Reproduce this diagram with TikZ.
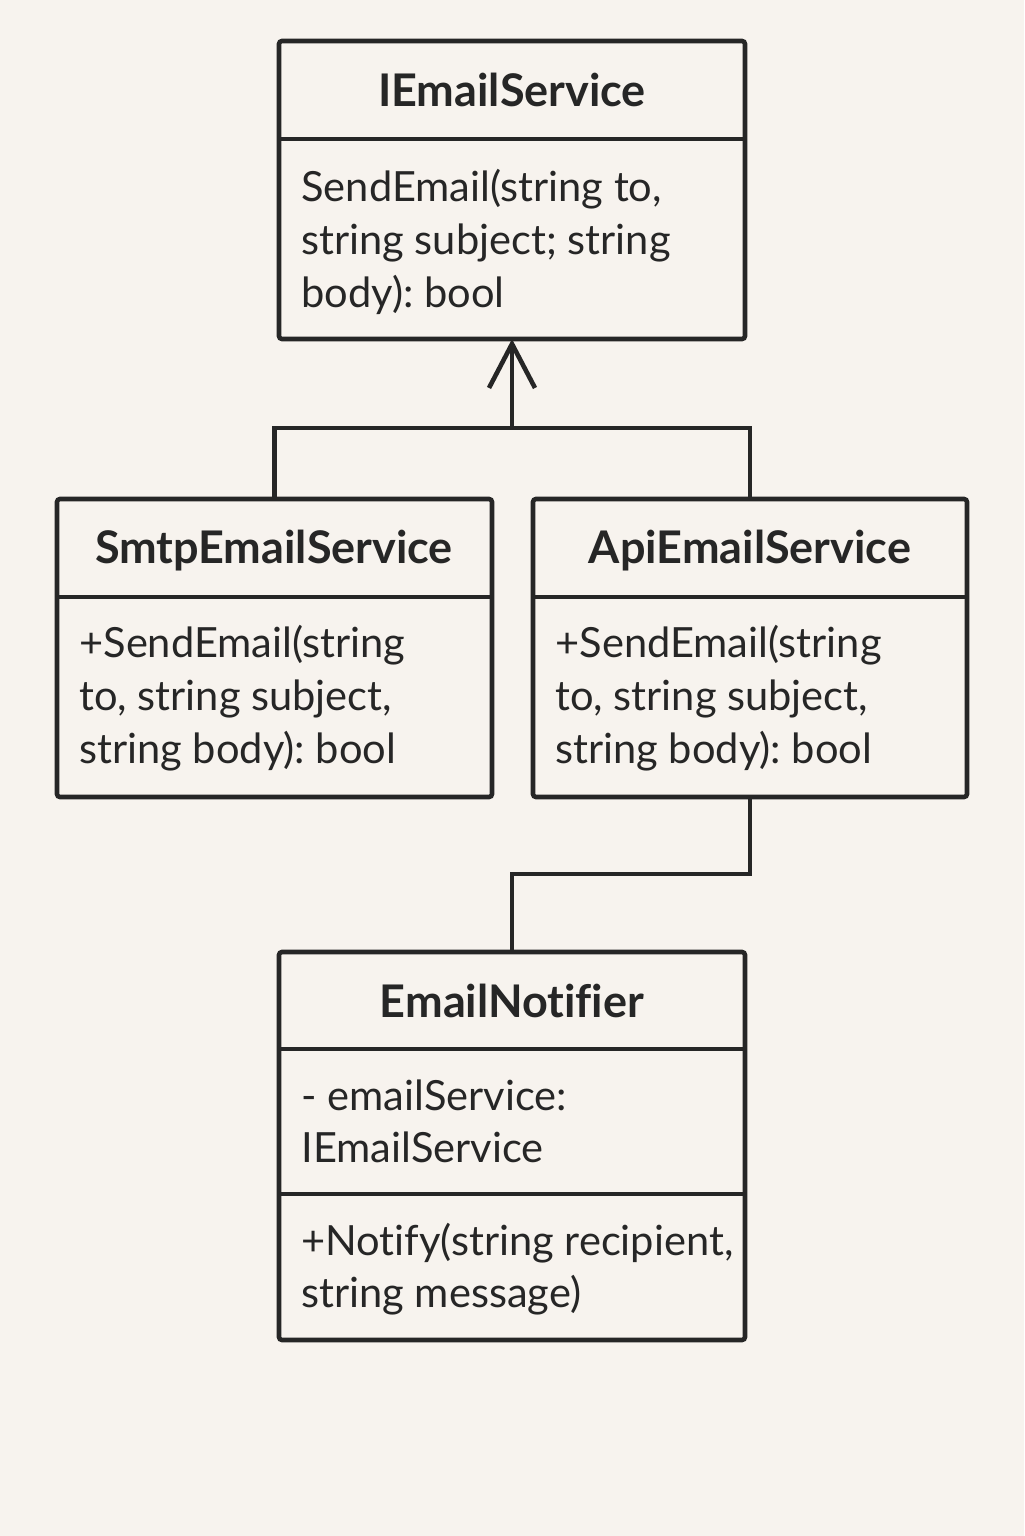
\documentclass[tikz,border=0pt]{standalone}
\usepackage{fontspec}
\setmainfont{Lato}[Ligatures=NoCommon]
\usetikzlibrary{arrows.meta}
\definecolor{bg}{HTML}{F7F3EE}
\definecolor{ink}{HTML}{262626}
\frenchspacing
\begin{document}
\begin{tikzpicture}[x=0.5pt,y=-0.5pt,
 box/.style={draw=ink,line width=2.3pt,rounded corners=1.5pt,inner sep=0pt,outer sep=0pt,anchor=north west},
 ttl/.style={font=\fontsize{22.5pt}{26pt}\selectfont\bfseries,text=ink,anchor=base,inner sep=0pt},
 txt/.style={font=\fontsize{20.8pt}{26.5pt}\selectfont,text=ink,anchor=base west,inner sep=0pt},
 conn/.style={draw=ink,line width=2.3pt,line join=miter}]
\fill[bg] (0,0) rectangle (1024,1536);
\useasboundingbox (0,0) rectangle (1024,1536);
% boxes
\node[box,minimum width=233pt,minimum height=149pt] (ie) at (279,41) {};
\node[box,minimum width=217.5pt,minimum height=149pt] (smtp) at (57,499) {};
\node[box,minimum width=217pt,minimum height=149pt] (api) at (533,499) {};
\node[box,minimum width=233pt,minimum height=194pt] (notif) at (279,952) {};
% dividers
\draw[conn] (ie.west |- 0,139) -- (ie.east |- 0,139);
\draw[conn] (smtp.west |- 0,597) -- (smtp.east |- 0,597);
\draw[conn] (api.west |- 0,597) -- (api.east |- 0,597);
\draw[conn] (notif.west |- 0,1049) -- (notif.east |- 0,1049);
\draw[conn] (notif.west |- 0,1194) -- (notif.east |- 0,1194);
% titles
\node[ttl] (ieT) at (512,107) {IEmailService};
\node[ttl] (smtpT) at (274,563) {SmtpEmailService};
\node[ttl] (apiT) at (750,563) {ApiEmailService};
\node[ttl] (notifT) at (512,1017) {EmailNotifier};
% body text
\node[txt] (ie1) at (301,201) {SendEmail(string to,};
\node[txt] (ie2) at (301,254) {string subject; string};
\node[txt] (ie3) at (301,307) {body): bool};
\node[txt] (sm1) at (79,657) {+SendEmail(string};
\node[txt] (sm2) at (79,710) {to, string subject,};
\node[txt] (sm3) at (79,763) {string body): bool};
\node[txt] (ap1) at (555,657) {+SendEmail(string};
\node[txt] (ap2) at (555,710) {to, string subject,};
\node[txt] (ap3) at (555,763) {string body): bool};
\node[txt] (nf1) at (301,1110) {- emailService:};
\node[txt] (nf2) at (301,1162) {IEmailService};
\node[txt] (nf3) at (301,1255) {+Notify(string recipient,};
\node[txt] (nf4) at (301,1307) {string message)};
% connectors
\coordinate (j) at (512,428);
\draw[conn] (smtp.north) |- (j) -| (api.north);
\draw[conn,-{Straight Barb[length=22pt,width=23pt,line width=2.3pt]}] (j) -- (ie.south);
\draw[conn] (api.south) -- ++(0,77) -| (notif.north);
\end{tikzpicture}
\end{document}
